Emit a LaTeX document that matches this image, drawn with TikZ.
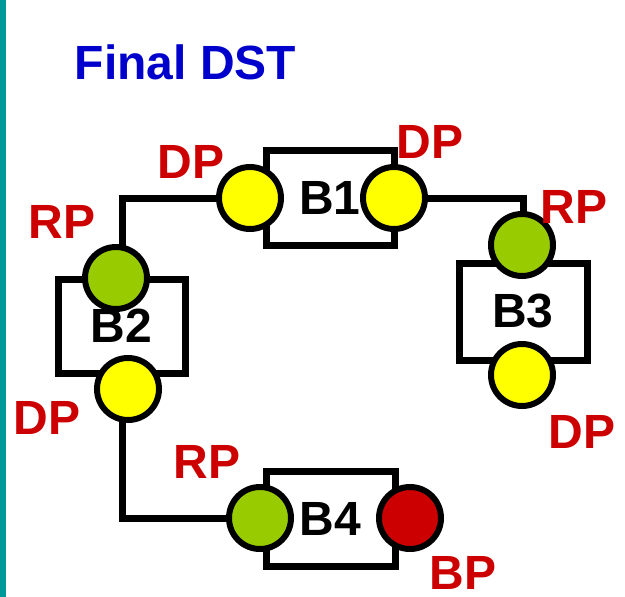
\documentclass[tikz,border=0pt]{standalone}
\usepackage{fontspec}
\setmainfont{Liberation Sans}
\usetikzlibrary{backgrounds}
\definecolor{tealbar}{HTML}{009999}
\definecolor{titleblue}{HTML}{0000CC}
\definecolor{portred}{HTML}{CC0000}
\definecolor{portgreen}{HTML}{99CC00}
\definecolor{portyellow}{HTML}{FFFF00}
\begin{document}
\begin{tikzpicture}[x=1pt,y=-1pt,
  bigtext/.style={font=\fontsize{48}{48}\selectfont\bfseries},
  bridge/.style={draw=black, line width=7pt, rectangle, minimum width=128pt, minimum height=95pt, inner sep=0pt, bigtext, text=black},
  port/.style={draw=black, line width=6pt, circle, minimum size=62pt, inner sep=0pt},
  dpport/.style={port, fill=portyellow},
  rpport/.style={port, fill=portgreen},
  bpport/.style={port, fill=portred},
  plabel/.style={bigtext, text=portred, inner sep=0pt},
  wire/.style={draw=black, line width=7pt}]
\useasboundingbox (0,0) rectangle (625,597);
\fill[tealbar] (0,0) rectangle (6,597);
\node[bigtext, text=titleblue, inner sep=0pt] (title) at (185.5,62) {Final DST};
% bridges
\node[bridge] (b1) at (330,197.5) {B1};
\node[bridge, minimum width=127pt, minimum height=94pt] (b2) at (121.5,326) {B2};
\node[bridge, minimum height=97pt] (b3) at (523,311.5) {B3};
\node[bridge, minimum width=129pt] (b4) at (330.5,518.5) {B4};
% ports
\node[dpport] (dpa) at (250,198) {};
\node[dpport] (dpb) at (394,198) {};
\node[rpport] (rp2) at (116,278) {};
\node[dpport] (dp2) at (128,389) {};
\node[rpport] (rp3) at (522,245) {};
\node[dpport] (dp3) at (522,375) {};
\node[rpport] (rp4) at (260,518) {};
\node[bpport] (bp4) at (410,518) {};
% port labels
\node[plabel] (ldpa) at (191,162) {DP};
\node[plabel] (ldpb) at (430,142) {DP};
\node[plabel] (lrp2) at (62,222) {RP};
\node[plabel] (ldp2) at (47,418) {DP};
\node[plabel] (lrp3) at (574,207) {RP};
\node[plabel] (ldp3) at (582,432) {DP};
\node[plabel] (lrp4) at (207,462) {RP};
\node[plabel] (lbp4) at (463,572.5) {BP};
% wires
\coordinate (ca) at (122,198);
\coordinate (cb) at (523,198);
\coordinate (cc) at (122,518);
\begin{scope}[on background layer]
\draw[wire] (dpa.center) -- (ca) -- (ca |- rp2.center);
\draw[wire] (dpb.center) -- (cb) -- (cb |- rp3.center);
\draw[wire] (cc |- dp2.center) -- (cc) -- (rp4.center);
\end{scope}
\end{tikzpicture}
\end{document}
